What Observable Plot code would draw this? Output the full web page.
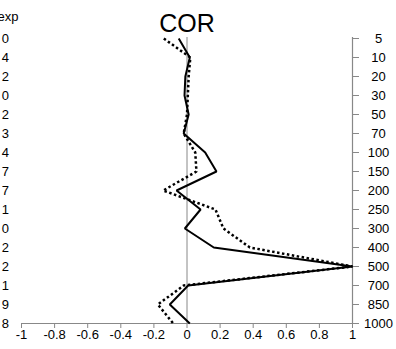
<!DOCTYPE html>
<html><head><meta charset="utf-8">
<script src="https://cdn.jsdelivr.net/npm/d3@7"></script>
<script src="https://cdn.jsdelivr.net/npm/@observablehq/plot@0.6"></script>
<style>body{margin:0;background:#fff}svg{display:block}</style>
</head><body><div id="chart"></div>
<script>
const levels = [5,10,20,30,50,70,100,150,200,250,300,400,500,700,850,1000];
const solid  = [-0.05,0.017,-0.01,-0.015,0.01,-0.02,0.11,0.178,-0.063,0.082,-0.013,0.162,1.0,0.007,-0.104,0.017];
const dotted = [-0.14,0.02,0.01,0.005,0.0,-0.02,0.05,0.057,-0.144,0.172,0.22,0.38,1.0,-0.02,-0.176,-0.083];
const expCounts = ["0","4","2","0","2","3","4","7","7","1","0","2","2","1","9","8"];
const xTicks = [-1,-0.8,-0.6,-0.4,-0.2,0,0.2,0.4,0.6,0.8,1];
const title = "COR";

const solidData = levels.map((l,i)=>({level:l, v:solid[i]}));
const dottedData = levels.map((l,i)=>({level:l, v:dotted[i]}));
const expData = levels.map((l,i)=>({level:l, t:expCounts[i]}));
const axisGrey = "#888";

const chart = Plot.plot({
  width: 396, height: 349,
  marginLeft: 21, marginRight: 44, marginTop: 37, marginBottom: 26,
  style: {fontFamily: "'Liberation Sans', Arial, sans-serif", fontSize: "13px", background: "#fff", color: "#000"},
  x: {domain: [-1, 1]},
  y: {type: "point", domain: levels, padding: 0},
  marks: [
    Plot.ruleX([0], {stroke: axisGrey, strokeWidth: 1}),
    Plot.ruleX([1], {stroke: axisGrey, strokeWidth: 1.2}),
    Plot.ruleY([1000], {x1: -1, x2: 1, stroke: axisGrey, strokeWidth: 1.2}),
    Plot.axisX({ticks: xTicks, tickSize: 5, tickPadding: 1, stroke: axisGrey, fill: "#000", tickFormat: d => String(d), fontSize: 13, label: null}),
    Plot.axisY({anchor: "right", ticks: levels, tickSize: 6, tickPadding: 20, textAnchor: "middle", stroke: axisGrey, fill: "#000", tickFormat: d => String(d), fontSize: 13, label: null}),
    Plot.line(dottedData, {x: "v", y: "level", stroke: "#000", strokeWidth: 2.5, strokeDasharray: "2.5,2.5", strokeLinecap: "butt", strokeLinejoin: "miter"}),
    Plot.line(solidData, {x: "v", y: "level", stroke: "#000", strokeWidth: 2, strokeLinecap: "butt", strokeLinejoin: "miter"}),
    Plot.text(expData, {x: -1, y: "level", text: "t", textAnchor: "end", dx: -12.5, fontSize: 13, fill: "#000"}),
    Plot.text(["exp"], {frameAnchor: "top-left", dx: -3, dy: -26, textAnchor: "end", fontSize: 13, fill: "#000"}),
    Plot.text([title], {frameAnchor: "top", dy: -6, lineAnchor: "bottom", fontSize: 25, fill: "#000"})
  ]
});
document.getElementById("chart").append(chart);
</script>
</body></html>
